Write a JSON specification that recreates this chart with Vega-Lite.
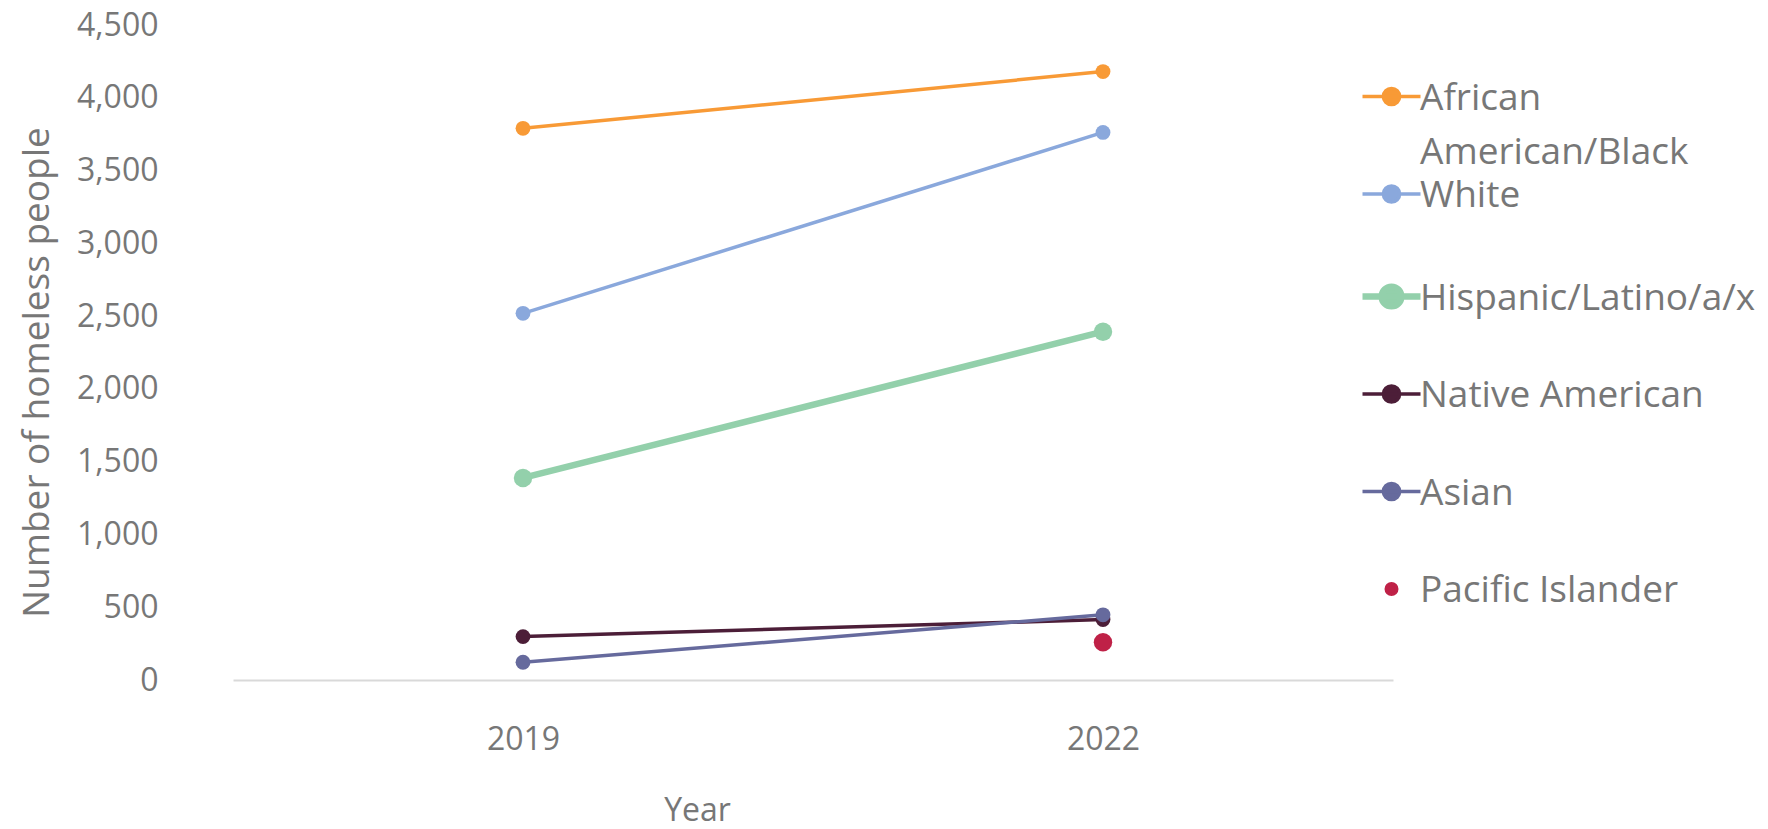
{
  "$schema": "https://vega.github.io/schema/vega-lite/v6.json",
  "width": 1160,
  "height": 655,
  "autosize": {"type": "none"},
  "padding": {"left": 233, "top": 25, "right": 375, "bottom": 149},
  "background": "white",
  "config": {"view": {"stroke": null}, "font": "Open Sans"},
  "data": {
    "values": [
      {"series": "African American/Black", "year": "2019", "count": 3790},
      {"series": "African American/Black", "year": "2022", "count": 4180},
      {"series": "White", "year": "2019", "count": 2519},
      {"series": "White", "year": "2022", "count": 3762},
      {"series": "Hispanic/Latino/a/x", "year": "2019", "count": 1388},
      {"series": "Hispanic/Latino/a/x", "year": "2022", "count": 2393},
      {"series": "Native American", "year": "2019", "count": 298},
      {"series": "Native American", "year": "2022", "count": 415},
      {"series": "Asian", "year": "2019", "count": 122},
      {"series": "Asian", "year": "2022", "count": 448},
      {"series": "Pacific Islander", "year": "2022", "count": 260}
    ]
  },
  "encoding": {
    "x": {
      "field": "year",
      "type": "ordinal",
      "scale": {"type": "point", "padding": 0.5},
      "axis": {
        "title": "Year",
        "labelAngle": 0,
        "labelFontSize": 32,
        "labelColor": "#777777",
        "labelPadding": 44,
        "ticks": false,
        "grid": false,
        "domain": true,
        "domainColor": "#d9d9d9",
        "domainWidth": 2,
        "titleFont": "Open Sans",
        "titleFontSize": 32,
        "titleFontWeight": "normal",
        "titleColor": "#777777",
        "titleX": 464,
        "titleY": 130,
        "titleBaseline": "middle",
        "titleAnchor": null
      }
    },
    "y": {
      "field": "count",
      "type": "quantitative",
      "scale": {"domain": [0, 4500]},
      "axis": {
        "title": "Number of homeless people",
        "values": [0, 500, 1000, 1500, 2000, 2500, 3000, 3500, 4000, 4500],
        "format": ",.0f",
        "labelFontSize": 32,
        "labelColor": "#777777",
        "labelPadding": 75,
        "ticks": false,
        "grid": false,
        "domain": false,
        "titleFont": "Open Sans",
        "titleFontSize": 37,
        "titleFontWeight": "normal",
        "titleColor": "#777777",
        "titleX": -196,
        "titleY": 347,
        "titleAngle": -90,
        "titleAlign": "center",
        "titleBaseline": "middle",
        "titleAnchor": null
      }
    },
    "color": {
      "field": "series",
      "type": "nominal",
      "scale": {
        "domain": ["African American/Black", "White", "Hispanic/Latino/a/x", "Native American", "Asian", "Pacific Islander"],
        "range": ["#f89a36", "#8aa8dc", "#93d0ab", "#4c1e38", "#666a9d", "#bf2147"]
      },
      "legend": {
        "orient": "none",
        "legendX": 1140,
        "legendY": 53,
        "title": null,
        "padding": 0,
        "labelFont": "Open Sans",
        "labelFontSize": 37,
        "labelColor": "#777777",
        "labelOffset": 10,
        "labelLimit": 500,
        "rowPadding": 4.5,
        "symbolSize": 3364,
        "symbolStrokeWidth": 3,
        "symbolType": "M-1,0L1,0M-0.28,0A0.28,0.28,0,1,1,0.28,0A0.28,0.28,0,1,1,-0.28,0Z",
        "labelExpr": "datum.label === 'African American/Black' ? ['African', 'American/Black'] : [datum.label, '']",
        "encode": {
          "symbols": {
            "update": {
              "shape": {"signal": "datum.value === 'Pacific Islander' ? 'circle' : (datum.value === 'Hispanic/Latino/a/x' ? 'M-1,0L1,0M-0.34,0A0.34,0.34,0,1,1,0.34,0A0.34,0.34,0,1,1,-0.34,0Z' : 'M-1,0L1,0M-0.28,0A0.28,0.28,0,1,1,0.28,0A0.28,0.28,0,1,1,-0.28,0Z')"},
              "size": {"signal": "datum.value === 'Pacific Islander' ? 110 : 3364"},
              "fill": {"scale": "color", "field": "value"},
              "stroke": {"scale": "color", "field": "value"},
              "strokeWidth": {"signal": "datum.value === 'Hispanic/Latino/a/x' ? 6.5 : 3.5"},
              "opacity": {"value": 1},
              "fillOpacity": {"value": 1}
            }
          },
          "labels": {
            "update": {
              "lineHeight": {"value": 54},
              "dy": {"value": 2}
            }
          }
        }
      }
    }
  },
  "layer": [
    {
      "transform": [{"filter": "datum.series !== 'Pacific Islander'"}],
      "mark": {"type": "line"},
      "encoding": {
        "strokeWidth": {
          "condition": {"test": "datum.series === 'Hispanic/Latino/a/x'", "value": 6.5},
          "value": 3.5
        }
      }
    },
    {
      "mark": {"type": "point", "filled": true, "opacity": 1},
      "encoding": {
        "size": {
          "condition": {"test": "datum.series === 'Hispanic/Latino/a/x' || datum.series === 'Pacific Islander'", "value": 340},
          "value": 220
        }
      }
    }
  ]
}
